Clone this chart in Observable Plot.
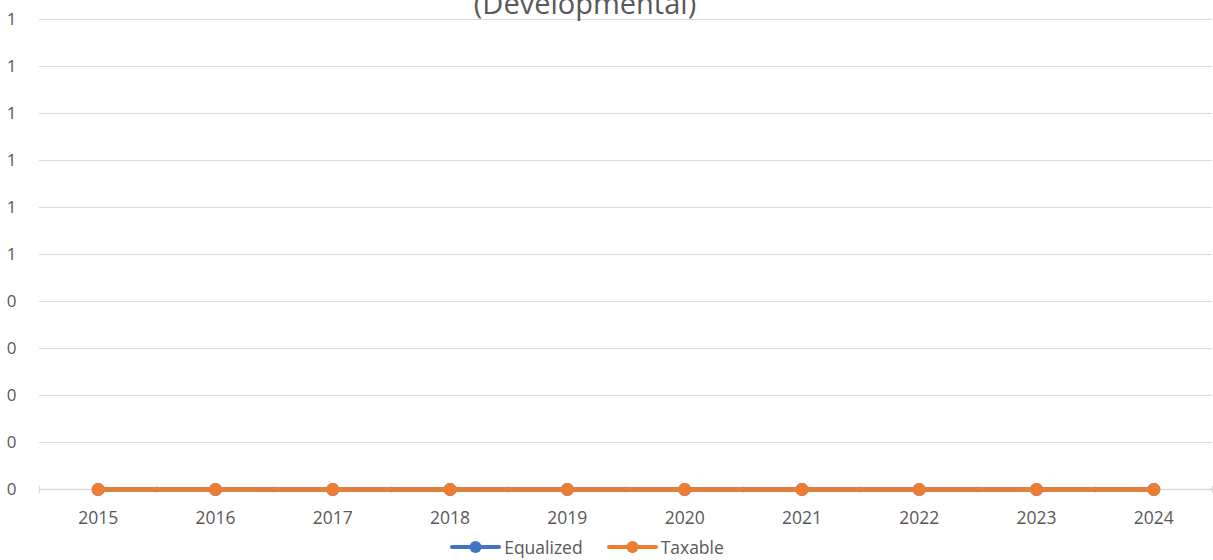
<!DOCTYPE html>
<html>
<head>
<meta charset="utf-8">
<script src="https://cdn.jsdelivr.net/npm/d3@7"></script>
<script src="https://cdn.jsdelivr.net/npm/@observablehq/plot@0.6"></script>
<style>
  html, body { margin: 0; padding: 0; background: #fff; overflow: hidden; }
  #chart { width: 1213px; height: 560px; position: relative; font-family: "Open Sans", sans-serif; }
  #legend { position: absolute; top: 535px; left: 0; width: 1213px; display: flex; justify-content: center; gap: 24px; color: #595959; font-size: 17.5px; padding-right: 39px; box-sizing: border-box; line-height: 24px; }
  .item { display: flex; align-items: center; gap: 3px; }
</style>
</head>
<body>
<div id="chart"></div>
<script>
const years = [2015, 2016, 2017, 2018, 2019, 2020, 2021, 2022, 2023, 2024];
const equalized = [0, 0, 0, 0, 0, 0, 0, 0, 0, 0];
const taxable = [0, 0, 0, 0, 0, 0, 0, 0, 0, 0];
const yTicks = [0, 0.1, 0.2, 0.3, 0.4, 0.5, 0.6, 0.7, 0.8, 0.9, 1.0];
const yTickLabels = ["0", "0", "0", "0", "0", "1", "1", "1", "1", "1", "1"];
const seriesNames = ["Equalized", "Taxable"];
const seriesColors = ["#4472C4", "#ED7D31"];
const titleText = "(Developmental)";

const boundaries = [years[0] - 0.5, ...years.map(y => y + 0.5)];
const eqData = years.map((y, i) => ({year: y, value: equalized[i]}));
const txData = years.map((y, i) => ({year: y, value: taxable[i]}));
const lineShape = {draw(ctx, l) { ctx.moveTo(0, 0); ctx.lineTo(0, -l); }};

const plot = Plot.plot({
  width: 1213,
  height: 530,
  marginTop: 19,
  marginBottom: 41,
  marginLeft: 39,
  marginRight: 1,
  style: {fontFamily: "Open Sans, sans-serif", fontSize: "17px", color: "#595959", background: "white", overflow: "visible"},
  x: {domain: [boundaries[0], boundaries[boundaries.length - 1]]},
  y: {domain: [0, 1]},
  marks: [
    Plot.gridY(yTicks, {stroke: "#d9d9d9", strokeOpacity: 1, strokeWidth: 1}),
    Plot.ruleY([0], {stroke: "#d9d9d9", strokeWidth: 1.3}),
    Plot.vector(boundaries, {x: d => d, y: 0, length: 6, rotate: 0, shape: lineShape, stroke: "#d9d9d9", strokeWidth: 1.3}),
    Plot.axisY({ticks: yTicks, tickSize: 0, tickPadding: 23, tickFormat: (d, i) => yTickLabels[i], fill: "#595959", fontSize: 17, label: null}),
    Plot.axisX({ticks: years, tickSize: 0, tickPadding: 22, tickFormat: d => String(d), fill: "#595959", fontSize: 17.5, label: null}),
    Plot.line(eqData, {x: "year", y: "value", stroke: seriesColors[0], strokeWidth: 4.5}),
    Plot.dot(eqData, {x: "year", y: "value", fill: seriesColors[0], r: 6.5}),
    Plot.line(txData, {x: "year", y: "value", stroke: seriesColors[1], strokeWidth: 4.5}),
    Plot.dot(txData, {x: "year", y: "value", fill: seriesColors[1], r: 6.5}),
    Plot.text([titleText], {frameAnchor: "top", dx: -41, dy: -6, lineAnchor: "bottom", fontSize: 29, fill: "#595959"})
  ]
});
document.getElementById("chart").appendChild(plot);

const legend = document.createElement("div");
legend.id = "legend";
seriesNames.forEach((name, i) => {
  const item = document.createElement("div");
  item.className = "item";
  item.innerHTML = `<svg width="51" height="14"><line x1="2" y1="7" x2="49" y2="7" stroke="${seriesColors[i]}" stroke-width="4" stroke-linecap="round"/><circle cx="25.5" cy="7" r="6" fill="${seriesColors[i]}"/></svg><span>${name}</span>`;
  legend.appendChild(item);
});
document.getElementById("chart").appendChild(legend);
</script>
</body>
</html>
